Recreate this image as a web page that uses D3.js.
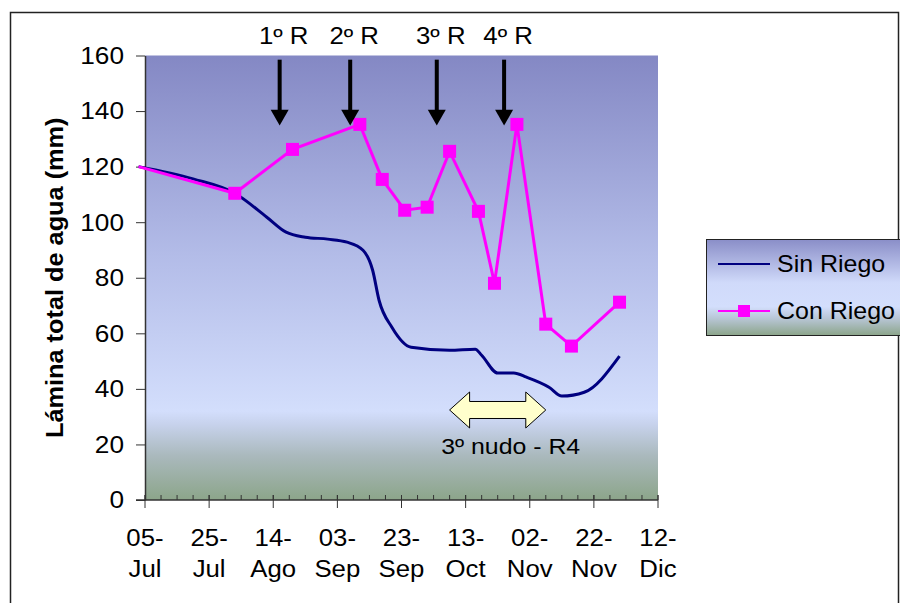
<!DOCTYPE html>
<html>
<head>
<meta charset="utf-8">
<script src="https://cdn.jsdelivr.net/npm/d3@7"></script>
<style>
  body { margin: 0; background: #fff; }
  text { font-family: "Liberation Sans", Arial, sans-serif; fill: #000; }
</style>
</head>
<body>
<div id="chart"></div>
<script>
// data
const sinDates = ["2004-07-03","2004-07-20","2004-08-02","2004-08-12","2004-08-18","2004-08-24","2004-08-31","2004-09-06","2004-09-11","2004-09-14","2004-09-16","2004-09-20","2004-09-26","2004-10-08","2004-10-16","2004-10-18","2004-10-23","2004-10-28","2004-11-01","2004-11-08","2004-11-12","2004-11-19","2004-11-30"];
const sinValues = [120,115.6,110.4,101.8,96.4,94.6,93.9,92.8,89.9,82.7,71.9,62.2,55,53.9,54.3,52.1,45.7,45.7,44.2,40.6,37.4,38.8,51.8];

const conDates = ["2004-07-03","2004-08-02","2004-08-20","2004-09-10","2004-09-17","2004-09-24","2004-10-01","2004-10-08","2004-10-17","2004-10-22","2004-10-29","2004-11-07","2004-11-15","2004-11-30"];
const conValues = [120,110.4,126.2,135.2,115.4,104.3,105.4,125.5,103.9,78.0,135.2,63.3,55.4,71.2];

const riegoLabels = ["1º R","2º R","3º R","4º R"];
const riegoDates = ["2004-08-16","2004-09-07","2004-10-04","2004-10-25"];

const tickDates = ["2004-07-05","2004-07-25","2004-08-14","2004-09-03","2004-09-23","2004-10-13","2004-11-02","2004-11-22","2004-12-12"];
const tickLabels = ["05-Jul","25-Jul","14-Ago","03-Sep","23-Sep","13-Oct","02-Nov","22-Nov","12-Dic"];
const yTicks = [0,20,40,60,80,100,120,140,160];

const nudoDates = ["2004-10-08","2004-11-07"];
const nudoLabel = "3º nudo - R4";
const seriesNames = ["Sin Riego","Con Riego"];

const parse = d3.timeParse("%Y-%m-%d");
const sin = sinDates.map((d, i) => ({ date: parse(d), value: sinValues[i] }));
const con = conDates.map((d, i) => ({ date: parse(d), value: conValues[i] }));

/** CONSTANTS */
const width = 900, height = 603;
const plot = { left: 145, right: 658, top: 55.5, bottom: 500 };
const font = 23;

// make text a bit wider, like the original rendering
function stretch(sel, k) {
  sel.each(function() {
    const w = this.getComputedTextLength();
    d3.select(this).attr("textLength", w * k).attr("lengthAdjust", "spacingAndGlyphs");
  });
}

/** SCALES */
const x = d3.scaleTime()
  .domain([parse(tickDates[0]), parse(tickDates[tickDates.length - 1])])
  .range([plot.left, plot.right]);
const y = d3.scaleLinear()
  .domain([0, 160])
  .range([plot.bottom, plot.top]);

const svg = d3.select("#chart").append("svg")
  .attr("width", width)
  .attr("height", height);

const defs = svg.append("defs");
const grad = defs.append("linearGradient").attr("id", "plotGrad")
  .attr("x1", 0).attr("y1", 0).attr("x2", 0).attr("y2", 1);
[[0, "#8488c4"], [0.45, "#b3bce8"], [0.8, "#d3defc"], [0.83, "#c7d2ec"], [0.9, "#aab9bd"], [1, "#8ca58a"]]
  .forEach(s => grad.append("stop").attr("offset", s[0]).attr("stop-color", s[1]));
const lgrad = defs.append("linearGradient").attr("id", "legGrad")
  .attr("x1", 0).attr("y1", 0).attr("x2", 0).attr("y2", 1);
[[0, "#8a8ec8"], [0.45, "#d0dafa"], [0.7, "#d3defc"], [0.82, "#b8c6d6"], [1, "#8ca58a"]]
  .forEach(s => lgrad.append("stop").attr("offset", s[0]).attr("stop-color", s[1]));

// outer frame
svg.append("rect")
  .attr("x", 10.5).attr("y", 12.5)
  .attr("width", 888).attr("height", 620)
  .attr("fill", "none").attr("stroke", "#222").attr("stroke-width", 1.5);

// plot background
svg.append("rect")
  .attr("x", plot.left).attr("y", plot.top)
  .attr("width", plot.right - plot.left).attr("height", plot.bottom - plot.top)
  .attr("fill", "url(#plotGrad)");

/** AXES */
const yAxis = svg.append("g")
  .attr("transform", `translate(${plot.left},0)`)
  .call(d3.axisLeft(y).tickValues(yTicks).tickSize(9).tickPadding(12).tickSizeOuter(0));
yAxis.select(".domain").attr("stroke", "#333").attr("stroke-width", 1.5);
yAxis.selectAll(".tick line").attr("stroke", "#333");
yAxis.selectAll(".tick text")
  .attr("font-size", font)
  .attr("font-family", "Liberation Sans, Arial, sans-serif")
  .attr("dy", "0.34em")
  .call(stretch, 1.14);

const xg = svg.append("g").attr("transform", `translate(0,${plot.bottom})`);
// minor ticks every 5 days, pointing up
const start = parse(tickDates[0]);
const minor = d3.range(0, 161, 5).map(d => d3.timeDay.offset(start, d));
xg.selectAll("line.minor")
  .data(minor)
  .join("line")
  .attr("class", "minor")
  .attr("x1", d => x(d)).attr("x2", d => x(d))
  .attr("y1", -5).attr("y2", 0)
  .attr("stroke", "#333");
xg.selectAll("line.major")
  .data(tickDates)
  .join("line")
  .attr("class", "major")
  .attr("x1", d => x(parse(d))).attr("x2", d => x(parse(d)))
  .attr("y1", -5).attr("y2", 8)
  .attr("stroke", "#333");
xg.append("line")
  .attr("x1", plot.left - 9).attr("x2", plot.right)
  .attr("y1", 0).attr("y2", 0)
  .attr("stroke", "#333").attr("stroke-width", 1.5);
xg.selectAll("text.d1")
  .data(tickDates)
  .join("text")
  .attr("class", "d1")
  .attr("x", d => x(parse(d)))
  .attr("y", 46)
  .attr("text-anchor", "middle")
  .attr("font-size", font)
  .text((d, i) => tickLabels[i].split("-")[0] + "-")
  .call(stretch, 1.12);
xg.selectAll("text.d2")
  .data(tickDates)
  .join("text")
  .attr("class", "d2")
  .attr("x", d => x(parse(d)))
  .attr("y", 77)
  .attr("text-anchor", "middle")
  .attr("font-size", font)
  .text((d, i) => tickLabels[i].split("-")[1])
  .call(stretch, 1.12);

// y title
svg.append("text")
  .attr("transform", `translate(63,${(plot.top + plot.bottom) / 2}) rotate(-90)`)
  .attr("text-anchor", "middle")
  .attr("font-size", font)
  .attr("font-weight", "bold")
  .text("Lámina total de agua (mm)")
  .call(stretch, 1.1);

/** LINES */
const sinLine = d3.line()
  .x(d => x(d.date))
  .y(d => y(d.value))
  .curve(d3.curveMonotoneX);
svg.append("path")
  .datum(sin)
  .attr("d", sinLine)
  .attr("fill", "none")
  .attr("stroke", "#000080")
  .attr("stroke-width", 3);

const conLine = d3.line()
  .x(d => x(d.date))
  .y(d => y(d.value));
svg.append("path")
  .datum(con)
  .attr("d", conLine)
  .attr("fill", "none")
  .attr("stroke", "#ff00ff")
  .attr("stroke-width", 3);
svg.selectAll("rect.marker")
  .data(con.slice(1))
  .join("rect")
  .attr("class", "marker")
  .attr("x", d => x(d.date) - 6.5)
  .attr("y", d => y(d.value) - 6.5)
  .attr("width", 13).attr("height", 13)
  .attr("fill", "#ff00ff");

/** IRRIGATION ARROWS */
const arrows = svg.selectAll("g.riego")
  .data(riegoDates)
  .join("g")
  .attr("class", "riego")
  .attr("transform", d => `translate(${x(parse(d))},0)`);
arrows.append("line")
  .attr("x1", 0).attr("x2", 0)
  .attr("y1", y(158.5)).attr("y2", y(140))
  .attr("stroke", "#000").attr("stroke-width", 4);
arrows.append("path")
  .attr("d", `M-9,${y(140.5)} L9,${y(140.5)} L0,${y(134.8)} Z`)
  .attr("fill", "#000");
arrows.append("text")
  .attr("x", 4)
  .attr("y", 44)
  .attr("text-anchor", "middle")
  .attr("font-size", font)
  .text((d, i) => riegoLabels[i])
  .call(stretch, 1.12);

/** 3º nudo double arrow */
const ax0 = x(parse(nudoDates[0])), ax1 = x(parse(nudoDates[1]));
const ay = y(32.4);
svg.append("path")
  .attr("d", `M${ax0},${ay} L${ax0 + 20},${ay - 18} L${ax0 + 20},${ay - 8.5} L${ax1 - 20},${ay - 8.5} L${ax1 - 20},${ay - 18} L${ax1},${ay} L${ax1 - 20},${ay + 18} L${ax1 - 20},${ay + 8.5} L${ax0 + 20},${ay + 8.5} L${ax0 + 20},${ay + 18} Z`)
  .attr("fill", "#ffffcc")
  .attr("stroke", "#000")
  .attr("stroke-width", 1);
svg.append("text")
  .attr("x", (ax0 + ax1) / 2 + 13)
  .attr("y", 454)
  .attr("text-anchor", "middle")
  .attr("font-size", font - 1)
  .text(nudoLabel)
  .call(stretch, 1.13);

/** LEGEND */
const legend = svg.append("g").attr("transform", "translate(706,239)");
legend.append("rect")
  .attr("x", 0.5).attr("y", 0.5)
  .attr("width", 200).attr("height", 96)
  .attr("fill", "url(#legGrad)")
  .attr("stroke", "#222");
const items = legend.selectAll("g.item")
  .data(seriesNames)
  .join("g")
  .attr("class", "item")
  .attr("transform", (d, i) => `translate(0,${25 + i * 47})`);
items.append("line")
  .attr("x1", 12).attr("x2", 64)
  .attr("stroke", (d, i) => i ? "#ff00ff" : "#000080")
  .attr("stroke-width", 2);
items.filter((d, i) => i === 1).append("rect")
  .attr("x", 32).attr("y", -6).attr("width", 12).attr("height", 12)
  .attr("fill", "#ff00ff");
items.append("text")
  .attr("x", 71)
  .attr("y", 8)
  .attr("font-size", font + 1)
  .text(d => d)
  .call(stretch, 1.04);
</script>
</body>
</html>
